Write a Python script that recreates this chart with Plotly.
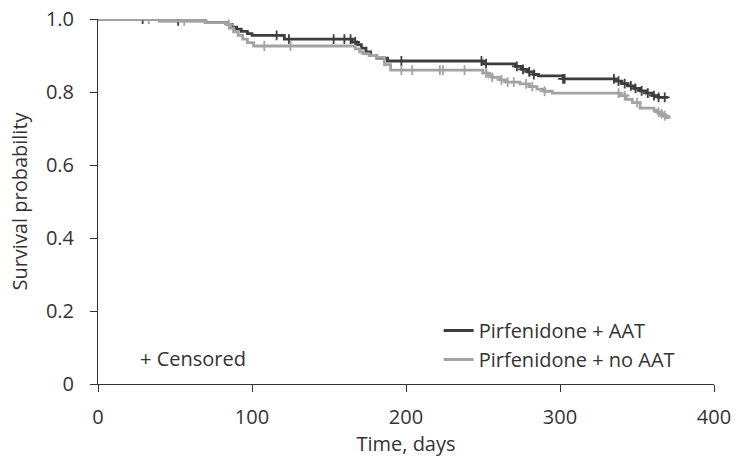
import numpy as np
import plotly.graph_objects as go

# Kaplan-Meier step data (time in days, survival probability)
aat_time = [0, 40, 70, 84, 87, 90, 93, 97, 100, 121, 165, 168, 171, 174, 177, 181,
            188, 250, 271, 275, 279, 283, 286, 302, 336, 340, 344, 348, 352, 356,
            360, 364, 370]
aat_surv = [1.0, 0.995, 0.99, 0.985, 0.978, 0.972, 0.966, 0.96, 0.955, 0.945, 0.937,
            0.93, 0.92, 0.91, 0.90, 0.893, 0.885, 0.877, 0.87, 0.862, 0.855, 0.848,
            0.844, 0.836, 0.83, 0.823, 0.817, 0.81, 0.803, 0.797, 0.79, 0.785, 0.785]
aat_censor = [29, 52, 116, 124, 153, 160, 164, 167, 197, 249, 252, 272, 276, 280,
              283, 302, 303, 335, 338, 342, 346, 349, 353, 357, 361, 364, 368]

noaat_time = [0, 40, 70, 84, 86, 88, 91, 94, 97, 101, 167, 170, 172, 176, 181, 186,
              190, 250, 253, 256, 261, 265, 274, 280, 285, 290, 295, 339, 343, 347,
              352, 361, 363, 365, 367, 369, 371]
noaat_surv = [1.0, 0.995, 0.99, 0.985, 0.975, 0.965, 0.955, 0.945, 0.935, 0.926,
              0.918, 0.91, 0.905, 0.9, 0.895, 0.875, 0.86, 0.852, 0.846, 0.84, 0.833,
              0.827, 0.822, 0.815, 0.808, 0.802, 0.797, 0.79, 0.78, 0.771, 0.756,
              0.75, 0.745, 0.74, 0.735, 0.73, 0.728]
noaat_censor = [33, 56, 85, 108, 125, 197, 204, 222, 224, 238, 252, 256, 262, 266,
                270, 278, 282, 290, 338, 342, 350, 364, 366, 368]

x_ticks = [0, 100, 200, 300, 400]
y_ticks = [0, 0.2, 0.4, 0.6, 0.8, 1.0]
y_tick_labels = ["0", "0.2", "0.4", "0.6", "0.8", "1.0"]

DARK = "#3d3d3d"
LIGHT = "#a3a3a3"
FONT = "Open Sans"
TEXT = "#333333"


def step_at(times, surv, t):
    idx = np.searchsorted(np.asarray(times), np.asarray(t), side="right") - 1
    return np.asarray(surv)[idx]


fig = go.Figure()

for name, t, s, c, col, grp in [
    ("Pirfenidone + AAT", aat_time, aat_surv, aat_censor, DARK, "a"),
    ("Pirfenidone + no AAT", noaat_time, noaat_surv, noaat_censor, LIGHT, "b"),
]:
    fig.add_trace(go.Scatter(
        x=t, y=s, mode="lines", name=name, line=dict(color=col, width=2.8, shape="hv"),
        legendgroup=grp,
    ))
    fig.add_trace(go.Scatter(
        x=c, y=step_at(t, s, c), mode="markers", showlegend=False, legendgroup=grp,
        marker=dict(symbol="cross-thin", size=7, line=dict(color=col, width=1.8)),
    ))

fig.add_annotation(
    text="+ Censored", xref="paper", yref="paper", x=0.065, y=0.07,
    xanchor="left", yanchor="middle", showarrow=False,
    font=dict(family=FONT, size=20, color=TEXT),
)

axis_common = dict(
    showline=True, linecolor="#333333", linewidth=1, ticks="outside", ticklen=7,
    tickcolor="#333333", showgrid=False, zeroline=False, automargin=False,
    tickfont=dict(family=FONT, size=20, color=TEXT),
)

fig.update_xaxes(
    range=[0, 400], tickvals=x_ticks, ticklabelstandoff=8,
    title=dict(text="Time, days", standoff=6,
               font=dict(family=FONT, size=20, color=TEXT)), **axis_common,
)
fig.update_yaxes(
    range=[0, 1.0], tickvals=y_ticks, ticktext=y_tick_labels, ticklabelstandoff=12,
    title=dict(text="Survival probability", standoff=12,
               font=dict(family=FONT, size=20, color=TEXT)), **axis_common,
)

fig.update_layout(
    width=739, height=459,
    margin=dict(l=98, r=25, t=19, b=75),
    paper_bgcolor="white", plot_bgcolor="white",
    legend=dict(
        x=0.553, y=0.2, xanchor="left", yanchor="top", bgcolor="rgba(0,0,0,0)",
        font=dict(family=FONT, size=20, color=TEXT), tracegroupgap=0,
    ),
)

fig.write_html("out.html")
